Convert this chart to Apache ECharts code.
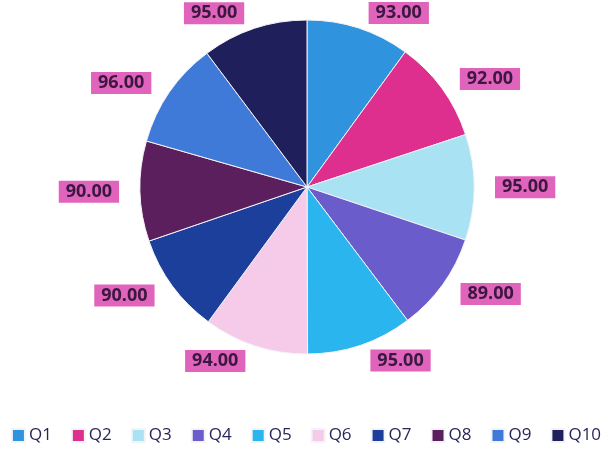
<!DOCTYPE html>
<html>
<head>
<meta charset="utf-8">
<script src="https://cdn.jsdelivr.net/npm/echarts@6/dist/echarts.min.js"></script>
<style>
  html, body { margin: 0; padding: 0; background: #fff; }
  #chart { width: 612px; height: 450px; }
</style>
</head>
<body>
<div id="chart"></div>
<script>
// data
var categories = ['Q1', 'Q2', 'Q3', 'Q4', 'Q5', 'Q6', 'Q7', 'Q8', 'Q9', 'Q10'];
var scores = [93, 92, 95, 89, 95, 94, 90, 90, 96, 95];
var sliceColors = ['#2f93de', '#df2f8e', '#a9e2f3', '#6a5ccb', '#2bb5ef',
                   '#f6cbe9', '#1b3f9b', '#5c1f5e', '#3f7ad8', '#1f1f5b'];

var chart = echarts.init(document.getElementById('chart'));

var pieData = [];
for (var i = 0; i < categories.length; i++) {
    pieData.push({ name: categories[i], value: scores[i] });
}

chart.setOption({
    backgroundColor: '#ffffff',
    color: sliceColors,
    legend: {
        bottom: 6,
        left: 'center',
        width: 612,
        padding: 0,
        icon: 'rect',
        itemWidth: 13,
        itemHeight: 13,
        itemGap: 19,
        textStyle: { fontFamily: 'Open Sans', fontSize: 17, color: '#27275a', padding: [0, 0, 0, -1] },
        data: categories
    },
    series: [{
        type: 'pie',
        center: [307, 187],
        radius: 167,
        startAngle: 90,
        clockwise: true,
        animation: false,
        itemStyle: { borderColor: '#f3f3f8', borderWidth: 1 },
        label: {
            show: true,
            position: 'outside',
            formatter: function (p) { return p.value.toFixed(2); },
            backgroundColor: '#e064bb',
            color: '#3a1840',
            fontFamily: 'Open Sans',
            fontWeight: 'bold',
            fontSize: 18,
            padding: [3, 7, 1, 7]
        },
        labelLine: { show: false, length: 16, length2: 0 },
        data: pieData
    }]
});
</script>
</body>
</html>
